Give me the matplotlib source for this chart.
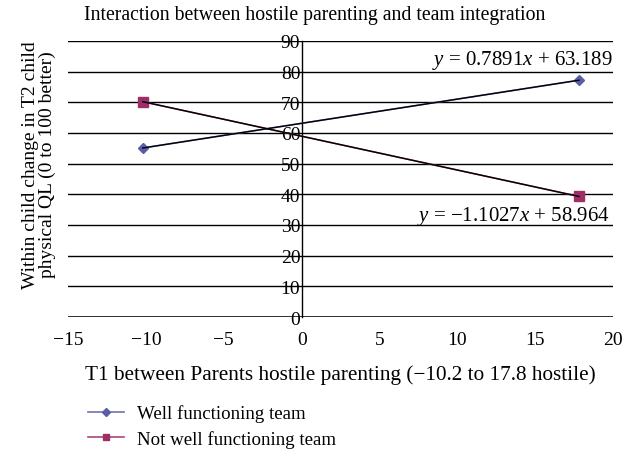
import numpy as np
import matplotlib
matplotlib.use("Agg")
import matplotlib.pyplot as plt
from matplotlib.lines import Line2D

plt.rcParams["font.family"] = ["Liberation Serif", "DejaVu Serif"]
plt.rcParams["mathtext.fontset"] = "custom"
plt.rcParams["mathtext.it"] = "Liberation Serif:italic"
plt.rcParams["mathtext.rm"] = "Liberation Serif"

hostile = [-10.2, 17.8]
well_team = [55.1, 77.2]
not_well_team = [70.2, 39.3]
series_names = ["Well functioning team", "Not well functioning team"]
x_ticks = [-15, -10, -5, 0, 5, 10, 15, 20]
y_ticks = [0, 10, 20, 30, 40, 50, 60, 70, 80, 90]

fig = plt.figure(figsize=(6.29, 4.56), dpi=100)
ax = fig.add_axes([0.108, 0.3026, 0.867, 0.6054])

ax.set_xlim(-15, 20)
ax.set_ylim(0, 90)

for yv in y_ticks:
    ax.axhline(yv, color="black", lw=1.0, zorder=1)
ax.axhline(0, color="black", lw=1.8, zorder=1)

ax.plot(hostile, well_team, color="#6f72b0", marker="D", ms=5.5,
        mfc="#5b5ea6", mec="#5b5ea6", lw=1.2, zorder=3)
ax.plot(hostile, not_well_team, color="#a8477a", marker="s", ms=6.5,
        mfc="#9e2f65", mec="#9e2f65", lw=1.2, zorder=3)

# linear trendlines (black) drawn over the series lines
xs = np.array(hostile)
for ys in (well_team, not_well_team):
    m, b = np.polyfit(xs, ys, 1)
    ax.plot(xs, m * xs + b, color="black", lw=1.0, zorder=4)

ax.text(19.95, 83.8, "$y$ = 0.7891$x$ + 63.189", ha="right", va="center", fontsize=15)
ax.text(19.8, 33.0, "$y$ = \u22121.1027$x$ + 58.964", ha="right", va="center", fontsize=15)

for s in ("top", "right", "bottom"):
    ax.spines[s].set_visible(False)
ax.spines["left"].set_position(("data", 0))
ax.spines["left"].set_linewidth(1.0)

ax.set_xticks(x_ticks)
ax.set_xticklabels([str(t).replace("-", "\u2212") for t in x_ticks])
ax.set_yticks(y_ticks)
ax.tick_params(axis="both", length=0, labelsize=14)
ax.tick_params(axis="y", pad=1)
ax.tick_params(axis="x", pad=10)
for lbl in ax.get_yticklabels():
    lbl.set_zorder(5)

fig.text(0.5, 0.965, "Interaction between hostile parenting and team integration",
         ha="center", va="center", fontsize=14.2)
ax.set_xlabel("T1 between Parents hostile parenting (\u221210.2 to 17.8 hostile)",
              fontsize=15.3, labelpad=12)
fig.text(0.062, 0.638, "Within child change in T2 child\nphysical QL (0 to 100 better)",
         rotation=90, ha="center", va="center", fontsize=14, linespacing=1.0)

handles = [
    Line2D([], [], color="#6f72b0", marker="D", ms=4, mfc="#5b5ea6", mec="#5b5ea6", lw=1.2),
    Line2D([], [], color="#a8477a", marker="s", ms=4.5, mfc="#9e2f65", mec="#9e2f65", lw=1.2),
]
fig.legend(handles, series_names, loc="upper left", bbox_to_anchor=(0.122, 0.136),
           frameon=False, fontsize=13.6, handlelength=1.9, labelspacing=0.4,
           handletextpad=0.7, borderpad=0.1)

fig.savefig("out.png", dpi=100)
